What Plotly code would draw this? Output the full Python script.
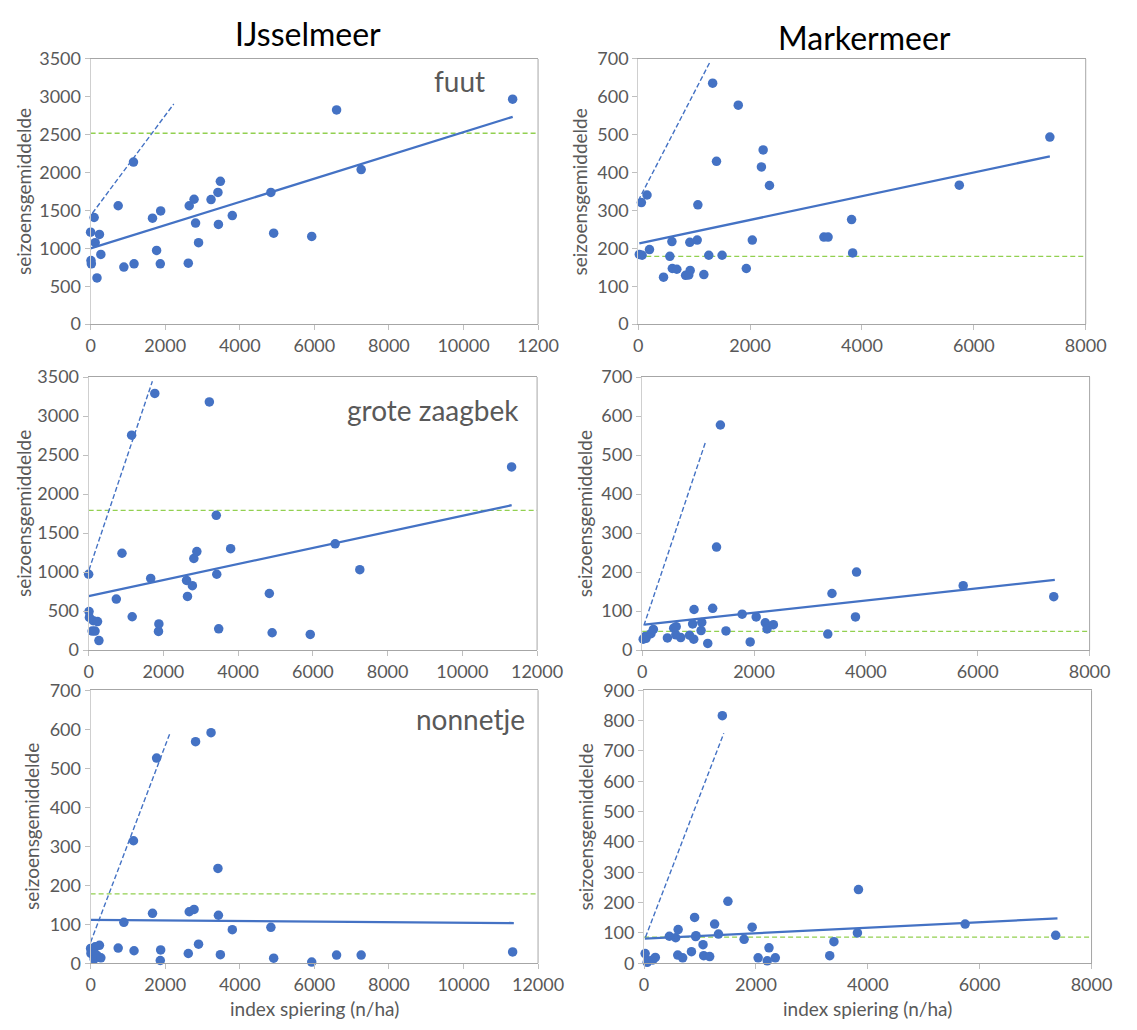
import plotly.graph_objects as go

W, H = 1137, 1030

# ---------------- data ----------------
# IJsselmeer
ij_spiering = [0, 10, 20, 95, 123, 171, 237, 275, 740, 892, 1150, 1165, 1660, 1770, 1869, 1879,
               2620, 2645, 2775, 2815, 2895, 3230, 3415, 3428, 3480, 3800, 4835, 4910, 5930, 6597,
               7256, 11318]
ij_fuut = [1214, 839, 796, 1408, 1076, 611, 1184, 921, 1563, 753, 2139, 796, 1399, 973, 796, 1494,
           805, 1563, 1649, 1334, 1076, 1644, 1739, 1317, 1885, 1433, 1739, 1201, 1158, 2828,
           2040, 2970]
ij_zaagbek = [972, 494, 419, 243, 377, 243, 365, 122, 654, 1241, 2754, 427, 918, 3290, 239, 335,
              893, 687, 826, 1174, 1262, 3181, 1727, 972, 272, 1299, 725, 222, 201, 1362,
              1031, 2347]
ij_nonnetje = [38, 25, 30, 11, 42, 20, 46, 14, 39, 105, 314, 32, 128, 526, 7, 34,
               25, 132, 138, 568, 49, 591, 243, 123, 22, 86, 92, 13, 3, 21,
               21, 29]

# Markermeer
mk_spiering = [19, 56, 69, 157, 201, 452, 565, 602, 609, 690, 847, 903, 922, 928, 1054, 1066,
               1173, 1261, 1330, 1399, 1499, 1788, 1932, 2039, 2202, 2233, 2346, 3319, 3394,
               3814, 3833, 5740, 7359]
mk_fuut = [184, 321, 182, 341, 197, 124, 179, 218, 147, 145, 129, 130, 216, 142, 222, 315,
           131, 182, 636, 430, 182, 578, 147, 222, 415, 460, 366, 230, 230,
           276, 188, 367, 494]
mk_zaagbek = [28, 35, 30, 42, 53, 31, 56, 39, 60, 32, 38, 67, 28, 104, 50, 71,
              17, 107, 264, 577, 49, 92, 21, 85, 70, 54, 65, 41, 145,
              85, 200, 165, 137]
mk_nonnetje = [32, 3, 8, 11, 19, 89, 84, 27, 111, 18, 38, 151, 88, 91, 61, 25,
               22, 129, 96, 816, 204, 79, 119, 18, 8, 51, 18, 25, 71,
               100, 243, 129, 92]

# trend lines (end points), steep dashed lines and green reference levels
ij_fuut_trend_x, ij_fuut_trend_y = [0, 11320], [1000, 2737]
ij_fuut_dash_x, ij_fuut_dash_y = [47, 2230], [1464, 2906]
ij_fuut_ref = 2520
ij_zaagbek_trend_x, ij_zaagbek_trend_y = [0, 11320], [692, 1857]
ij_zaagbek_dash_x, ij_zaagbek_dash_y = [9, 1705], [1027, 3445]
ij_zaagbek_ref = 1790
ij_nonnetje_trend_x, ij_nonnetje_trend_y = [0, 11350], [111, 103]
ij_nonnetje_dash_x, ij_nonnetje_dash_y = [0, 2125], [54, 589]
ij_nonnetje_ref = 178

mk_fuut_trend_x, mk_fuut_trend_y = [19, 7359], [213, 443]
mk_fuut_dash_x, mk_fuut_dash_y = [0, 1286], [326, 693]
mk_fuut_ref = 179
mk_zaagbek_trend_x, mk_zaagbek_trend_y = [44, 7378], [65, 180]
mk_zaagbek_dash_x, mk_zaagbek_dash_y = [31, 1130], [63, 532]
mk_zaagbek_ref = 48
mk_nonnetje_trend_x, mk_nonnetje_trend_y = [13, 7391], [81, 148]
mk_nonnetje_dash_x, mk_nonnetje_dash_y = [25, 1425], [86, 758]
mk_nonnetje_ref = 86

ij_xticks = [0, 2000, 4000, 6000, 8000, 10000, 12000]
ij_xticktext_top = ["0", "2000", "4000", "6000", "8000", "10000", "1200"]
ij_xticktext = ["0", "2000", "4000", "6000", "8000", "10000", "12000"]
mk_xticks = [0, 2000, 4000, 6000, 8000]
mk_xticktext = ["0", "2000", "4000", "6000", "8000"]

species = ["fuut", "grote zaagbek", "nonnetje"]
lakes = ["IJsselmeer", "Markermeer"]
y_title = "seizoensgemiddelde"
x_title = "index spiering (n/ha)"

# ---------------- styling ----------------
FONT = "Lato, 'Open Sans', sans-serif"
BLUE = "#4472C4"
GREEN = "#92D050"
GREY_TXT = "#595959"

panels = [
    dict(px=(88, 548), py=(48, 319), xmax=12000, ymax=3500, dy=500,
         x=ij_spiering, y=ij_fuut, tx=ij_fuut_trend_x, ty=ij_fuut_trend_y,
         dx_=ij_fuut_dash_x, dy_=ij_fuut_dash_y, ref=ij_fuut_ref,
         ticks=ij_xticks, ticktext=ij_xticktext_top, ytitle_x=19),
    dict(px=(651, 1111), py=(48, 319), xmax=8000, ymax=700, dy=100,
         x=mk_spiering, y=mk_fuut, tx=mk_fuut_trend_x, ty=mk_fuut_trend_y,
         dx_=mk_fuut_dash_x, dy_=mk_fuut_dash_y, ref=mk_fuut_ref,
         ticks=mk_xticks, ticktext=mk_xticktext, ytitle_x=591),
    dict(px=(86, 547), py=(373, 652), xmax=12000, ymax=3500, dy=500,
         x=ij_spiering, y=ij_zaagbek, tx=ij_zaagbek_trend_x, ty=ij_zaagbek_trend_y,
         dx_=ij_zaagbek_dash_x, dy_=ij_zaagbek_dash_y, ref=ij_zaagbek_ref,
         ticks=ij_xticks, ticktext=ij_xticktext, ytitle_x=19),
    dict(px=(655, 1115), py=(373, 652), xmax=8000, ymax=700, dy=100,
         x=mk_spiering, y=mk_zaagbek, tx=mk_zaagbek_trend_x, ty=mk_zaagbek_trend_y,
         dx_=mk_zaagbek_dash_x, dy_=mk_zaagbek_dash_y, ref=mk_zaagbek_ref,
         ticks=mk_xticks, ticktext=mk_xticktext, ytitle_x=596),
    dict(px=(88, 548), py=(693, 972), xmax=12000, ymax=700, dy=100,
         x=ij_spiering, y=ij_nonnetje, tx=ij_nonnetje_trend_x, ty=ij_nonnetje_trend_y,
         dx_=ij_nonnetje_dash_x, dy_=ij_nonnetje_dash_y, ref=ij_nonnetje_ref,
         ticks=ij_xticks, ticktext=ij_xticktext, ytitle_x=27),
    dict(px=(657, 1117), py=(693, 972), xmax=8000, ymax=900, dy=100,
         x=mk_spiering, y=mk_nonnetje, tx=mk_nonnetje_trend_x, ty=mk_nonnetje_trend_y,
         dx_=mk_nonnetje_dash_x, dy_=mk_nonnetje_dash_y, ref=mk_nonnetje_ref,
         ticks=mk_xticks, ticktext=mk_xticktext, ytitle_x=597),
]


def fx(px):
    return px / W


def fy(py):
    return 1 - py / H


fig = go.Figure()
layout = dict(width=W, height=H, margin=dict(l=0, r=0, t=0, b=0),
              paper_bgcolor="white", plot_bgcolor="white", showlegend=False,
              font=dict(family=FONT, color=GREY_TXT))
shapes = []
annotations = []

for i, p in enumerate(panels, start=1):
    xa = "x" if i == 1 else f"x{i}"
    ya = "y" if i == 1 else f"y{i}"
    fig.add_trace(go.Scatter(x=[0, p["xmax"]], y=[p["ref"], p["ref"]], mode="lines",
                             line=dict(color=GREEN, width=1.3, dash="5px,3px"),
                             xaxis=xa, yaxis=ya, hoverinfo="skip"))
    fig.add_trace(go.Scatter(x=p["dx_"], y=p["dy_"], mode="lines",
                             line=dict(color=BLUE, width=1.4, dash="5px,2.5px"),
                             xaxis=xa, yaxis=ya, hoverinfo="skip"))
    fig.add_trace(go.Scatter(x=p["x"], y=p["y"], mode="markers",
                             marker=dict(color=BLUE, size=9.5, line=dict(width=0)),
                             cliponaxis=False, xaxis=xa, yaxis=ya))
    fig.add_trace(go.Scatter(x=p["tx"], y=p["ty"], mode="lines",
                             line=dict(color=BLUE, width=2.3),
                             xaxis=xa, yaxis=ya, hoverinfo="skip"))

    key_x = "xaxis" if i == 1 else f"xaxis{i}"
    key_y = "yaxis" if i == 1 else f"yaxis{i}"
    layout[key_x] = dict(domain=[fx(p["px"][0]), fx(p["px"][1])], range=[0, p["xmax"]],
                         anchor=ya, tickmode="array", tickvals=p["ticks"], ticktext=p["ticktext"],
                         ticks="outside", ticklen=5, tickcolor="#BFBFBF",
                         showline=True, linecolor="#A6A6A6", linewidth=1, mirror=True,
                         showgrid=False, zeroline=False,
                         tickfont=dict(family=FONT, size=18, color=GREY_TXT))
    layout[key_y] = dict(domain=[fy(p["py"][1]), fy(p["py"][0])], range=[0, p["ymax"]],
                         anchor=xa, dtick=p["dy"], tick0=0,
                         ticks="outside", ticklen=5, tickcolor="#BFBFBF",
                         showline=True, linecolor="#CFCFCF", linewidth=1, mirror=False,
                         showgrid=False, zeroline=False,
                         tickfont=dict(family=FONT, size=18, color=GREY_TXT))
    shapes.append(dict(type="line", xref=f"{xa} domain", yref=f"{ya} domain",
                       x0=1, x1=1, y0=0, y1=1, line=dict(color="#A6A6A6", width=1)))
    annotations.append(dict(text=y_title, xref="paper", yref="paper",
                            x=fx(p["ytitle_x"]), y=fy((p["py"][0] + p["py"][1]) / 2),
                            textangle=-90, showarrow=False, xanchor="center", yanchor="middle",
                            font=dict(family=FONT, size=19, color=GREY_TXT)))

for text, (px, py) in zip(species, [(496, 70), (530, 407), (537, 722)]):
    annotations.append(dict(text=text, xref="paper", yref="paper", x=fx(px), y=fy(py),
                            xanchor="right", yanchor="middle", showarrow=False,
                            font=dict(family=FONT, size=28, color=GREY_TXT)))

for text, (px, py) in zip(lakes, [(311, 22), (884, 26)]):
    annotations.append(dict(text=text, xref="paper", yref="paper", x=fx(px), y=fy(py),
                            xanchor="center", yanchor="middle", showarrow=False,
                            font=dict(family=FONT, size=32, color="#000000")))

for px in [318, 887]:
    annotations.append(dict(text=x_title, xref="paper", yref="paper", x=fx(px), y=fy(1018),
                            xanchor="center", yanchor="middle", showarrow=False,
                            font=dict(family=FONT, size=19, color=GREY_TXT)))

layout["shapes"] = shapes
layout["annotations"] = annotations
fig.update_layout(**layout)
fig.write_html("out.html", config={"displayModeBar": False},
               post_script="document.body.style.margin='0';document.body.style.overflow='hidden';")
